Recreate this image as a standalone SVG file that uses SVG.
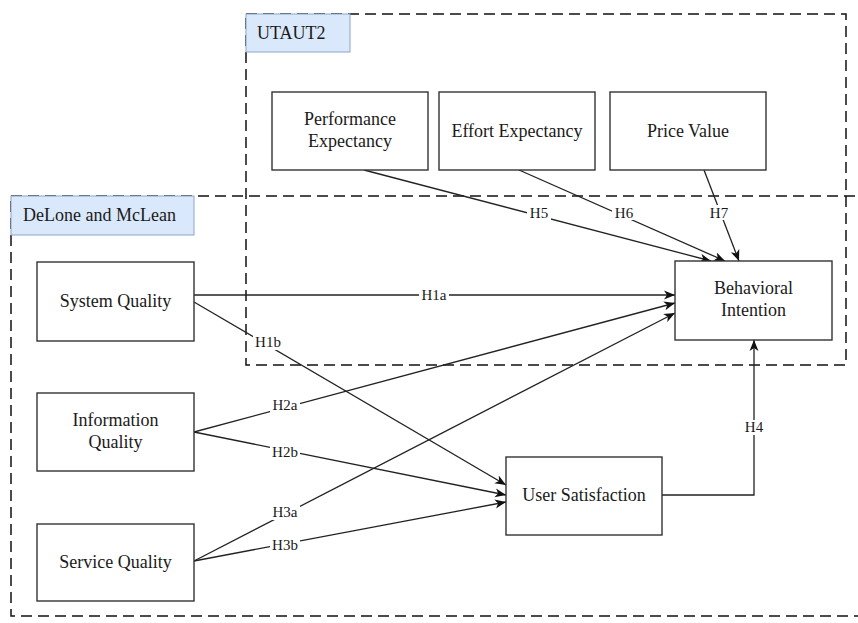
<svg xmlns="http://www.w3.org/2000/svg" width="858" height="623" viewBox="0 0 858 623">
<style>
text{font-family:'Liberation Serif','Times New Roman',serif;fill:#1a1a1a}
.node{fill:#fff;stroke:#333;stroke-width:1.4}
.nl{font-size:18px;text-anchor:middle}
.grp{fill:none;stroke:#111;stroke-width:1.5;stroke-dasharray:11 6}
.glab{fill:#dae8fc;stroke:#8ea5c6;stroke-width:1}
.gt{font-size:18px}
.e{fill:none;stroke:#222;stroke-width:1.3;marker-end:url(#arr)}
.lb{fill:#fff}
.el{font-size:15px;text-anchor:middle}
</style>
<defs>
<marker id="arr" viewBox="0 0 12 10" refX="11" refY="5" markerWidth="12" markerHeight="10" orient="auto" markerUnits="userSpaceOnUse">
<path d="M0,0.5 L11,5 L0,9.5 L3,5 z" fill="#111"/>
</marker>
</defs>
<rect width="858" height="623" fill="#fff"/>
<g id="group-utaut2">
<rect class="grp" x="246" y="14" width="600" height="351"/>
<rect class="glab" x="246" y="14" width="104" height="38"/>
<text class="gt" x="257" y="39">UTAUT2</text>
</g>
<g id="group-delone">
<rect class="grp" x="11" y="196" width="880" height="420"/>
<rect class="glab" x="11" y="196" width="183" height="39"/>
<text class="gt" x="23" y="221">DeLone and McLean</text>
</g>
<g id="connectors">
<line class="e" x1="364" y1="170" x2="711" y2="261"/>
<line class="e" x1="519" y1="170" x2="725" y2="261"/>
<line class="e" x1="704" y1="170" x2="739" y2="261"/>
<line class="e" x1="194" y1="295" x2="675" y2="295"/>
<line class="e" x1="194" y1="302" x2="506" y2="485"/>
<line class="e" x1="194" y1="432" x2="675" y2="303"/>
<line class="e" x1="194" y1="432" x2="506" y2="495"/>
<line class="e" x1="194" y1="561" x2="675" y2="313"/>
<line class="e" x1="194" y1="561" x2="506" y2="502"/>
<polyline class="e" points="662,495 754,495 754,340"/>
<g id="edge-labels">
<rect class="lb" x="527" y="205" width="24" height="15"/><text class="el" x="539" y="218">H5</text>
<rect class="lb" x="612" y="205" width="24" height="15"/><text class="el" x="624" y="218">H6</text>
<rect class="lb" x="707" y="205" width="24" height="15"/><text class="el" x="719" y="218">H7</text>
<rect class="lb" x="419" y="288" width="30" height="15"/><text class="el" x="434" y="300">H1a</text>
<rect class="lb" x="253" y="335" width="30" height="15"/><text class="el" x="268" y="347">H1b</text>
<rect class="lb" x="270" y="398" width="30" height="15"/><text class="el" x="285" y="410">H2a</text>
<rect class="lb" x="270" y="445" width="30" height="15"/><text class="el" x="285" y="457">H2b</text>
<rect class="lb" x="270" y="505" width="30" height="15"/><text class="el" x="285" y="517">H3a</text>
<rect class="lb" x="270" y="538" width="30" height="15"/><text class="el" x="285" y="550">H3b</text>
<rect class="lb" x="742" y="420" width="24" height="15"/><text class="el" x="754" y="432">H4</text>
</g>
</g>
<g id="node-pe"><rect class="node" x="272" y="92" width="156" height="78"/><text class="nl" x="350" y="125">Performance</text><text class="nl" x="350" y="147">Expectancy</text></g>
<g id="node-ee"><rect class="node" x="439" y="92" width="156" height="78"/><text class="nl" x="517" y="137">Effort Expectancy</text></g>
<g id="node-pv"><rect class="node" x="610" y="92" width="156" height="78"/><text class="nl" x="688" y="137">Price Value</text></g>
<g id="node-sq"><rect class="node" x="37" y="262" width="157" height="79"/><text class="nl" x="115.5" y="307">System Quality</text></g>
<g id="node-iq"><rect class="node" x="37" y="393" width="157" height="78"/><text class="nl" x="115.5" y="426">Information</text><text class="nl" x="115.5" y="448">Quality</text></g>
<g id="node-svq"><rect class="node" x="37" y="524" width="157" height="77"/><text class="nl" x="115.5" y="568">Service Quality</text></g>
<g id="node-us"><rect class="node" x="506" y="457" width="156" height="78"/><text class="nl" x="584" y="501">User Satisfaction</text></g>
<g id="node-bi"><rect class="node" x="675" y="261" width="157" height="79"/><text class="nl" x="753.5" y="294">Behavioral</text><text class="nl" x="753.5" y="316">Intention</text></g>
</svg>
